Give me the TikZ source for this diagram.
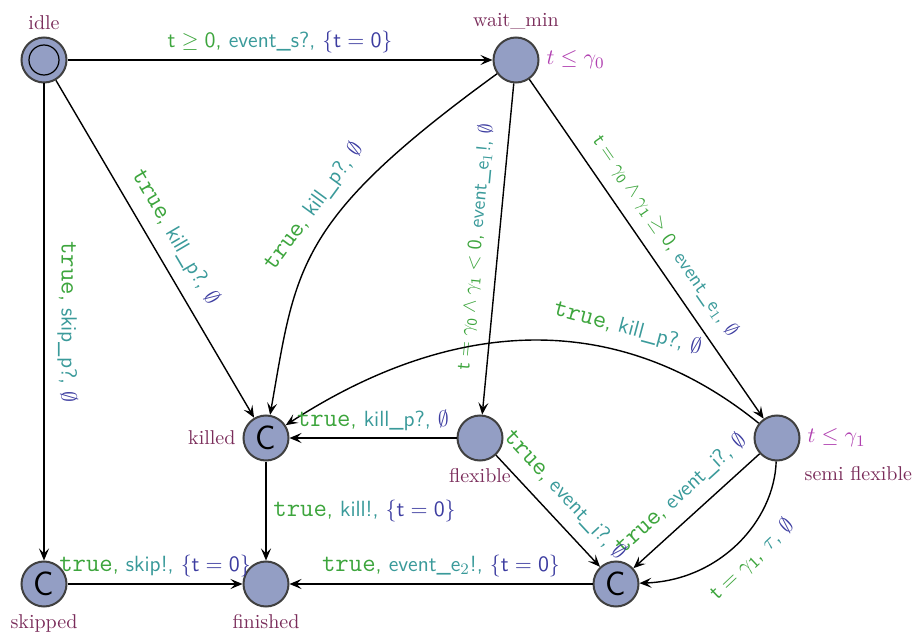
\documentclass[tikz,border=0pt]{standalone}
\usetikzlibrary{arrows.meta}
\definecolor{locc}{RGB}{122,44,90}
\definecolor{grc}{RGB}{61,165,61}
\definecolor{syc}{RGB}{58,154,154}
\definecolor{upc}{RGB}{60,60,160}
\definecolor{invc}{RGB}{176,64,176}
\definecolor{nodefill}{RGB}{147,158,196}
\definecolor{nodeline}{RGB}{64,64,64}
\newcommand{\lbl}[3]{\textcolor{grc}{#1,} \textcolor{syc}{#2,} \textcolor{upc}{#3}}
\newcommand{\tru}{{\ttfamily\fontsize{13}{13}\selectfont true}}
\begin{document}
\begin{tikzpicture}[x=0.5pt,y=0.5pt,
  loc/.style={circle, draw=nodeline, line width=1pt, fill=nodefill, minimum size=22.5pt, inner sep=0pt},
  comm/.style={loc, font=\sffamily\fontsize{17}{17}\selectfont},
  locname/.style={text=locc, font=\normalsize},
  inv/.style={text=invc, font=\fontsize{11}{13}\selectfont},
  edge/.style={-{Stealth[length=6pt,width=5pt,inset=2.5pt]}, line width=0.7pt},
  hlab/.style={font=\sffamily\fontsize{11}{13}\selectfont},
  rlab/.style={hlab, sloped},
  glab/.style={font=\sffamily\fontsize{10}{12}\selectfont, sloped}
]
\useasboundingbox (0,0) rectangle (917,639);

\node[loc, label={[locname]above:idle}] (idle) at (44,579) {};
\draw[line width=0.6pt] (idle.center) circle [radius=7.5pt];
\node[loc, label={[locname]above:wait\_min}, label={[inv]right:$t\leq\gamma_0$}] (wait) at (516,579) {};
\node[comm, label={[locname]left:killed}] (killed) at (266,201) {C};
\node[loc, label={[locname]below:flexible}] (flex) at (480,201) {};
\node[loc, label={[inv]right:$t\leq\gamma_1$}, label={[locname,anchor=north west,xshift=2pt,yshift=-2.5pt]south east:semi flexible}] (semi) at (777,201) {};
\node[comm, label={[locname]below:skipped}] (skipped) at (44,55) {C};
\node[loc, label={[locname]below:finished}] (fin) at (266,55) {};
\node[comm] (cm) at (616,55) {C};

\draw[edge] (idle) -- node[hlab, above] {\lbl{$\mathsf{t}\geq\mathsf{0}$}{event\_s?}{$\{\mathsf{t}=\mathsf{0}\}$}} (wait);
\draw[edge] (idle) -- node[rlab, above=3pt, pos=0.5] {\lbl{\tru}{kill\_p?}{$\emptyset$}} (killed);
\draw[edge] (idle) -- node[rlab, above=3pt, pos=0.5] {\lbl{\tru}{skip\_p?}{$\emptyset$}} (skipped);
\draw[edge] (wait) to[out=216,in=80,out distance=125pt,in distance=75pt] node[rlab, above=3pt, pos=0.42] {\lbl{\tru}{kill\_p?}{$\emptyset$}} (killed);
\draw[edge] (wait) -- node[glab, above=3pt, pos=0.5] {\lbl{$\mathsf{t}=\gamma_{\mathsf{0}}\wedge\gamma_{\mathsf{1}}<\mathsf{0}$}{event\_e$_1$!}{$\emptyset$}} (flex);
\draw[edge] (wait) -- node[glab, above=3pt, pos=0.5] {\lbl{$\mathsf{t}=\gamma_{\mathsf{0}}\wedge\gamma_{\mathsf{1}}\geq\mathsf{0}$}{event\_e$_1$}{$\emptyset$}} (semi);
\draw[edge] (semi) to[out=141,in=33,distance=95pt] node[rlab, above=3pt, pos=0.3] {\lbl{\tru}{kill\_p?}{$\emptyset$}} (killed);
\draw[edge] (semi) -- node[rlab, above=3pt, pos=0.5] {\lbl{\tru}{event\_i?}{$\emptyset$}} (cm);
\draw[edge] (semi) to[out=268,in=2,out distance=30pt,in distance=40pt] node[rlab, below=2pt, pos=0.5] {\lbl{$\mathsf{t}=\gamma_{\mathsf{1}}$}{$\tau$}{$\emptyset$}} (cm);
\draw[edge] (flex) -- node[hlab, above] {\lbl{\tru}{kill\_p?}{$\emptyset$}} (killed);
\draw[edge] (flex) -- node[rlab, above=3pt, pos=0.5] {\lbl{\tru}{event\_i?}{$\emptyset$}} (cm);
\draw[edge] (killed) -- node[hlab, right] {\lbl{\tru}{kill!}{$\{\mathsf{t}=\mathsf{0}\}$}} (fin);
\draw[edge] (skipped) -- node[hlab, above] {\lbl{\tru}{skip!}{$\{\mathsf{t}=\mathsf{0}\}$}} (fin);
\draw[edge] (cm) -- node[hlab, above] {\lbl{\tru}{event\_e$_2$!}{$\{\mathsf{t}=\mathsf{0}\}$}} (fin);
\end{tikzpicture}
\end{document}
